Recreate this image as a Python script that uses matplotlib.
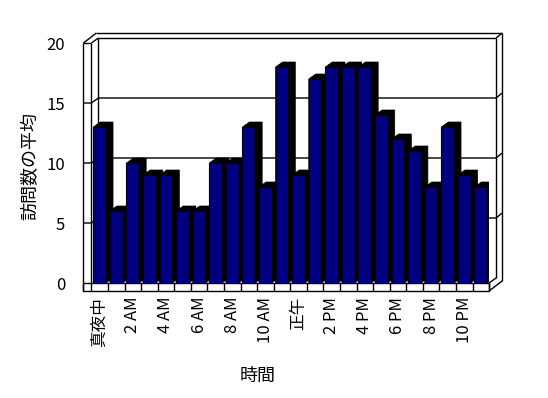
import matplotlib
matplotlib.use("Agg")
import matplotlib.pyplot as plt
from matplotlib.patches import Polygon

plt.rcParams['font.family'] = ['Noto Sans CJK JP', 'DejaVu Sans']

# average visits per hour
hours = list(range(24))
visits = [13, 6, 10, 9, 9, 6, 6, 10, 10, 13, 8, 18,
          9, 17, 18, 18, 18, 14, 12, 11, 8, 13, 9, 8]
tick_pos = list(range(0, 24, 2))
tick_labels = ['真夜中', '2 AM', '4 AM', '6 AM', '8 AM', '10 AM',
               '正午', '2 PM', '4 PM', '6 PM', '8 PM', '10 PM']
yticks = [0, 5, 10, 15, 20]

W, H = 548, 398
fig = plt.figure(figsize=(W / 100, H / 100), dpi=100)
# front plane in pixels: x 91.4..489.1, y 283..43
x0, x1, ytop, ybot = 91.4, 489.1, 43, 283
ax = fig.add_axes([x0 / W, 1 - ybot / H, (x1 - x0) / W, (ybot - ytop) / H])
ax.set_xlim(-0.5, 23.5)
ax.set_ylim(0, 20)
for s in ax.spines.values():
    s.set_visible(False)

sx = (x1 - x0) / 24.0   # px per category
sy = (ybot - ytop) / 20.0  # px per unit

def px(dx, dy):
    return dx / sx, dy / sy

lw = 1.0
kw = dict(color='black', lw=lw, clip_on=False, solid_capstyle='butt')

wx = -0.5 - 8 / sx          # left wall outer edge
fb = -8 / sy                # floor slab bottom
ix, iy = px(7, 5)           # inner wall offset
ox, oy = px(13, 10)         # outer wall offset
xr = 23.5

# floor slab front
ax.add_patch(Polygon([(wx, fb), (xr, fb), (xr, 0), (wx, 0)], closed=True,
                     facecolor='white', edgecolor='black', lw=lw, clip_on=False, zorder=1))
for k in range(25):
    xx = -0.5 + k
    ax.plot([xx, xx], [fb, 0], zorder=1.5, **kw)
# left wall
ax.plot([wx, wx], [fb, 20], zorder=1.5, **kw)
ax.plot([-0.5, -0.5], [0, 20], zorder=1.5, **kw)
ax.plot([wx, -0.5], [20, 20], zorder=1.5, **kw)
ax.plot([wx, wx + ox], [20, 20 + oy], zorder=1.5, **kw)
ax.plot([-0.5, -0.5 + ix], [20, 20 + iy], zorder=1.5, **kw)
# back wall
ax.plot([-0.5 + ix, -0.5 + ix], [iy, 20 + iy], zorder=1.2, **kw)
ax.plot([-0.5 + ix, xr + ix], [20 + iy, 20 + iy], zorder=1.5, **kw)
ax.plot([wx + ox, xr + ox], [20 + oy, 20 + oy], zorder=1.5, **kw)
ax.plot([xr + ix, xr + ix], [iy, 20 + iy], zorder=1.5, **kw)
ax.plot([xr + ox, xr + ox], [fb + oy, 20 + oy], zorder=1.5, **kw)
ax.plot([xr + ix, xr + ox], [20 + iy, 20 + oy], zorder=1.5, **kw)
ax.plot([xr, xr + ox], [fb, fb + oy], zorder=1.5, **kw)
ax.plot([xr, xr + ix], [0, iy], zorder=1.5, **kw)
# gridlines
for v in yticks[1:-1]:
    ax.plot([wx, -0.5, -0.5 + ix, xr + ix, xr + ox],
            [v, v, v + iy, v + iy, v + oy], zorder=1.2, **kw)

# bars
bw = 12.7 / sx
bx, by = px(7, 5)
for h, v in zip(hours, visits):
    l, r = h - bw / 2, h + bw / 2
    ax.add_patch(Polygon([(l, 0), (r, 0), (r + bx, by), (r + bx, v + by),
                          (l + bx, v + by), (l, v)], closed=True,
                         facecolor='black', edgecolor='black', lw=0.5, zorder=2))
ax.bar(hours, visits, width=bw, color='#000080', edgecolor='black',
       linewidth=0.8, zorder=3)

ax.set_yticks(yticks)
ax.set_yticklabels([str(t) for t in yticks], fontsize=12)
ax.set_xticks(tick_pos)
ax.set_xticklabels(tick_labels, rotation=90, fontsize=12)
ax.tick_params(axis='y', length=0, pad=19)
ax.tick_params(axis='x', length=0, pad=10)

fig.text(258 / W, 1 - 376 / H, '時間', ha='center', va='center', fontsize=13)
fig.text(30 / W, 1 - 166 / H, '訪問数の平均', ha='center', va='center',
         rotation=90, fontsize=13)

fig.savefig('out.png', dpi=100)
